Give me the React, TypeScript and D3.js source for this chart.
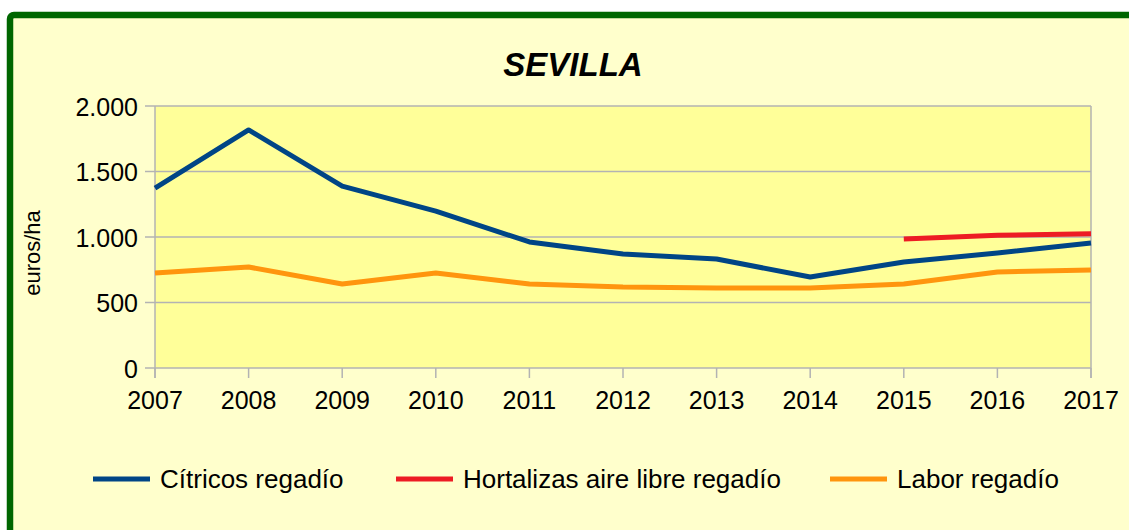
import React from "react";
import * as d3 from "d3";

const years = [2007, 2008, 2009, 2010, 2011, 2012, 2013, 2014, 2015, 2016, 2017];
const citricos: (number | null)[] = [1374, 1817, 1389, 1198, 962, 870, 832, 695, 809, 878, 954];
const hortalizas: (number | null)[] = [null, null, null, null, null, null, null, null, 985, 1013, 1025];
const labor: (number | null)[] = [725, 771, 641, 725, 641, 618, 611, 611, 641, 733, 748];
const yTicks = [0, 500, 1000, 1500, 2000];
const seriesNames = ["Cítricos regadío", "Hortalizas aire libre regadío", "Labor regadío"];
const seriesColors = ["#004586", "#ED1C24", "#FF950E"];

export default function App() {
  const W = 1129, H = 530;
  const left = 155, right = 1091, top = 106, bottom = 368;
  const x = d3.scaleLinear().domain([2007, 2017]).range([left, right]);
  const y = d3.scaleLinear().domain([0, 2000]).range([bottom, top]);
  const fmt = (v: number) => d3.format(",")(v).replace(/,/g, ".");
  const series = [citricos, hortalizas, labor];
  const line = d3
    .line<number | null>()
    .defined((d) => d !== null)
    .x((_, i) => x(years[i]))
    .y((d) => y(d as number));
  const legendX = [93, 396, 830];
  const font = "'Liberation Sans', Arial, sans-serif";
  const grid = "#B3B3B3";
  return (
    <div style={{ position: "absolute", left: 0, top: 0 }}>
      <svg width={W} height={H} style={{ display: "block" }} fontFamily={font}>
        <rect x={0} y={0} width={W} height={H} fill="#ffffff" />
        <rect x={10} y={15} width={1150} height={560} rx={4} fill="#FFFFCC" stroke="#006600" strokeWidth={6.5} />
        <text x={573} y={76} textAnchor="middle" fontSize={33} fontWeight="bold" fontStyle="italic" fill="#000">
          SEVILLA
        </text>
        <rect x={left} y={top} width={right - left} height={bottom - top} fill="#FFFF99" />
        {yTicks.map((t) => (
          <g key={t}>
            <line x1={145} x2={right} y1={y(t)} y2={y(t)} stroke={grid} strokeWidth={1.5} />
            <text x={138} y={y(t) + 9.5} textAnchor="end" fontSize={25} fill="#000">
              {fmt(t)}
            </text>
          </g>
        ))}
        <line x1={left} x2={left} y1={top} y2={bottom + 10} stroke={grid} strokeWidth={1.5} />
        <line x1={right} x2={right} y1={top} y2={bottom + 10} stroke={grid} strokeWidth={1.5} />
        {years.map((yr) => (
          <g key={yr}>
            <line x1={x(yr)} x2={x(yr)} y1={bottom} y2={bottom + 10} stroke={grid} strokeWidth={1.5} />
            <text x={x(yr)} y={409} textAnchor="middle" fontSize={25} fill="#000">
              {yr}
            </text>
          </g>
        ))}
        <text transform={`translate(40,253) rotate(-90)`} textAnchor="middle" fontSize={22} fill="#000">
          euros/ha
        </text>
        {series.map((s, i) => (
          <path key={i} d={line(s) || ""} fill="none" stroke={seriesColors[i]} strokeWidth={5} strokeLinejoin="round" />
        ))}
        {seriesNames.map((n, i) => (
          <g key={n}>
            <line x1={legendX[i]} x2={legendX[i] + 57} y1={479} y2={479} stroke={seriesColors[i]} strokeWidth={5} />
            <text x={legendX[i] + 67} y={488} fontSize={26} fill="#000">
              {n}
            </text>
          </g>
        ))}
      </svg>
    </div>
  );
}
